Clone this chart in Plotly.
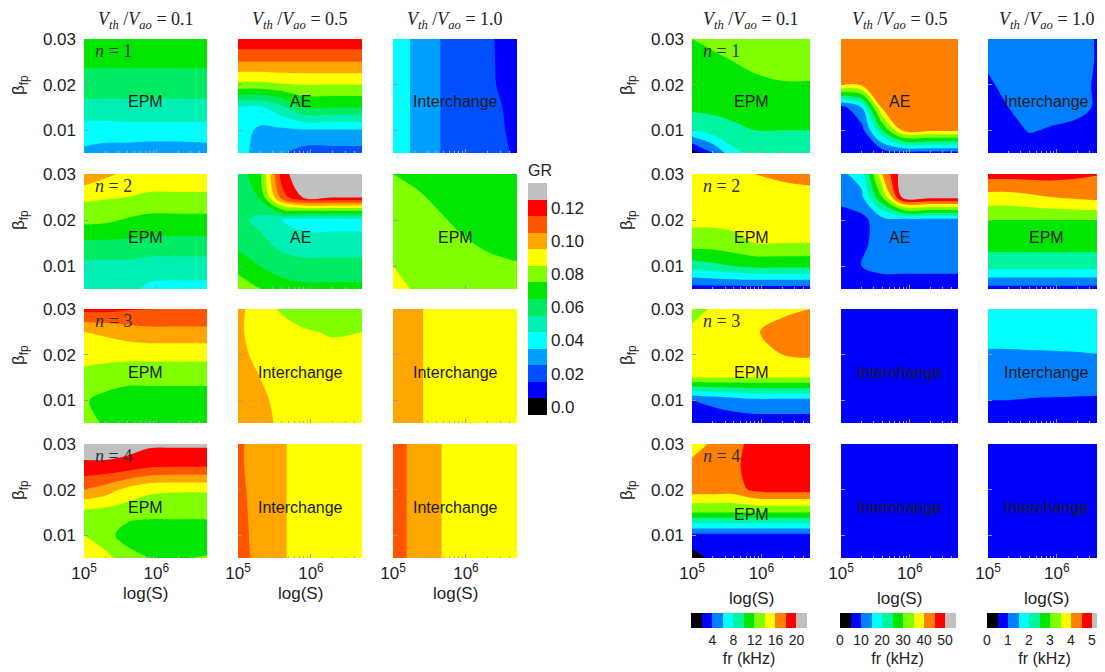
import math
import plotly.graph_objects as go

# page body has an 8 px margin: the figure is drawn 8 px in from the window corner
OFF = 8
W, H = 1105 - OFF, 672 - OFF

# ---------------- data ----------------
S_LOG = [5.0, 5.3, 5.6, 5.9, 6.3, 6.7]          # log10(S)
BETA = [0.005, 0.01, 0.015, 0.02, 0.025, 0.03]   # beta_fp (rows bottom -> top)
VTH = ["0.1", "0.5", "1.0"]
N_MODES = ["1", "2", "3", "4"]

MODES_GR = [["EPM", "AE", "Interchange"],
            ["EPM", "AE", "EPM"],
            ["EPM", "Interchange", "Interchange"],
            ["EPM", "Interchange", "Interchange"]]
MODES_FR = [["EPM", "AE", "Interchange"],
            ["EPM", "AE", "EPM"],
            ["EPM", "Interchange", "Interchange"],
            ["EPM", "Interchange", "Interchange"]]

# growth rate GR, rows = BETA (bottom->top), cols = S_LOG
gr_n1_v01 = [[0.033, 0.031, 0.030, 0.029, 0.029, 0.030],
             [0.040, 0.040, 0.041, 0.041, 0.041, 0.041],
             [0.052, 0.052, 0.052, 0.052, 0.052, 0.052],
             [0.060, 0.060, 0.060, 0.060, 0.060, 0.060],
             [0.067, 0.067, 0.067, 0.067, 0.067, 0.067],
             [0.072, 0.072, 0.072, 0.072, 0.072, 0.072]]
gr_n1_v05 = [[0.040, 0.030, 0.026, 0.021, 0.021, 0.021],
             [0.040, 0.033, 0.033, 0.034, 0.034, 0.034],
             [0.044, 0.043, 0.052, 0.065, 0.065, 0.065],
             [0.082, 0.082, 0.084, 0.085, 0.085, 0.085],
             [0.105, 0.105, 0.105, 0.105, 0.105, 0.105],
             [0.123, 0.123, 0.123, 0.123, 0.123, 0.123]]
gr_n1_v10 = [[0.042, 0.033, 0.026, 0.020, 0.018, 0.014],
             [0.042, 0.033, 0.026, 0.020, 0.018, 0.013],
             [0.042, 0.033, 0.026, 0.020, 0.018, 0.012],
             [0.042, 0.033, 0.026, 0.020, 0.017, 0.010],
             [0.042, 0.033, 0.026, 0.020, 0.017, 0.009],
             [0.042, 0.033, 0.026, 0.020, 0.017, 0.008]]
gr_n2_v01 = [[0.050, 0.050, 0.048, 0.043, 0.042, 0.042],
             [0.052, 0.052, 0.052, 0.050, 0.050, 0.050],
             [0.063, 0.063, 0.063, 0.062, 0.062, 0.062],
             [0.078, 0.077, 0.074, 0.072, 0.072, 0.072],
             [0.087, 0.086, 0.085, 0.083, 0.083, 0.083],
             [0.103, 0.097, 0.093, 0.092, 0.092, 0.092]]
gr_n2_v05 = [[0.080, 0.075, 0.070, 0.068, 0.068, 0.068],
             [0.072, 0.065, 0.060, 0.058, 0.058, 0.058],
             [0.062, 0.058, 0.052, 0.050, 0.050, 0.050],
             [0.058, 0.052, 0.045, 0.040, 0.040, 0.040],
             [0.058, 0.066, 0.110, 0.127, 0.127, 0.127],
             [0.060, 0.072, 0.120, 0.135, 0.135, 0.135]]
gr_n2_v10 = [[0.092, 0.083, 0.081, 0.080, 0.079, 0.078],
             [0.085, 0.082, 0.080, 0.079, 0.078, 0.076],
             [0.082, 0.080, 0.079, 0.077, 0.073, 0.071],
             [0.081, 0.079, 0.077, 0.073, 0.070, 0.069],
             [0.079, 0.077, 0.073, 0.071, 0.069, 0.068],
             [0.075, 0.072, 0.070, 0.069, 0.068, 0.068]]
gr_n3_v01 = [[0.078, 0.074, 0.072, 0.072, 0.072, 0.072],
             [0.076, 0.072, 0.070, 0.070, 0.070, 0.070],
             [0.082, 0.080, 0.078, 0.078, 0.078, 0.078],
             [0.088, 0.088, 0.088, 0.088, 0.088, 0.088],
             [0.095, 0.097, 0.100, 0.102, 0.102, 0.102],
             [0.118, 0.118, 0.116, 0.115, 0.115, 0.115]]
gr_n3_v05 = [[0.103, 0.100, 0.092, 0.088, 0.088, 0.088],
             [0.102, 0.098, 0.091, 0.088, 0.088, 0.088],
             [0.100, 0.095, 0.090, 0.088, 0.088, 0.088],
             [0.098, 0.092, 0.089, 0.088, 0.088, 0.088],
             [0.097, 0.090, 0.088, 0.086, 0.084, 0.085],
             [0.098, 0.089, 0.084, 0.080, 0.075, 0.078]]
gr_n3_v10 = [[0.100, 0.098, 0.090, 0.088, 0.088, 0.088],
             [0.100, 0.098, 0.090, 0.088, 0.088, 0.088],
             [0.100, 0.098, 0.090, 0.088, 0.088, 0.088],
             [0.100, 0.098, 0.090, 0.088, 0.088, 0.088],
             [0.100, 0.098, 0.090, 0.088, 0.088, 0.088],
             [0.101, 0.098, 0.090, 0.088, 0.088, 0.088]]
gr_n4_v01 = [[0.090, 0.088, 0.080, 0.075, 0.074, 0.076],
             [0.085, 0.079, 0.070, 0.068, 0.068, 0.068],
             [0.082, 0.081, 0.079, 0.078, 0.078, 0.078],
             [0.105, 0.100, 0.092, 0.087, 0.086, 0.086],
             [0.122, 0.122, 0.120, 0.116, 0.115, 0.115],
             [0.132, 0.132, 0.130, 0.127, 0.127, 0.127]]
gr_n4_v05 = [[0.110, 0.101, 0.097, 0.088, 0.088, 0.088],
             [0.109, 0.101, 0.097, 0.088, 0.088, 0.088],
             [0.109, 0.100, 0.097, 0.088, 0.088, 0.088],
             [0.108, 0.100, 0.097, 0.088, 0.088, 0.088],
             [0.107, 0.100, 0.097, 0.088, 0.088, 0.088],
             [0.107, 0.100, 0.097, 0.088, 0.088, 0.088]]
gr_n4_v10 = [[0.110, 0.102, 0.097, 0.088, 0.088, 0.088],
             [0.110, 0.102, 0.097, 0.088, 0.088, 0.088],
             [0.110, 0.102, 0.097, 0.088, 0.088, 0.088],
             [0.110, 0.102, 0.097, 0.088, 0.088, 0.088],
             [0.110, 0.102, 0.097, 0.088, 0.088, 0.088],
             [0.110, 0.102, 0.097, 0.088, 0.088, 0.088]]

# real frequency fr (kHz), rows = BETA (bottom->top), cols = S_LOG
fr_n1_v01 = [[1.0, 4.0, 7.5, 8.5, 9.0, 9.0],
             [8.0, 9.0, 9.5, 10.0, 10.0, 10.0],
             [10.5, 10.5, 10.8, 11.0, 11.0, 11.0],
             [10.5, 11.0, 11.3, 11.5, 11.8, 11.8],
             [11.0, 11.5, 12.0, 12.5, 13.0, 13.0],
             [12.0, 12.5, 13.0, 13.0, 13.0, 13.0]]
fr_n1_v05 = [[7.0, 7.0, 7.0, 8.0, 8.0, 8.0],
             [7.0, 8.0, 25.0, 41.0, 41.0, 41.0],
             [8.0, 15.0, 41.0, 42.5, 42.5, 42.5],
             [40.5, 41.0, 42.5, 42.5, 42.5, 42.5],
             [42.0, 42.5, 42.5, 42.5, 42.5, 42.5],
             [42.5, 42.5, 42.5, 42.5, 42.5, 42.5]]
fr_n1_v10 = [[0.75, 0.80, 0.85, 0.85, 0.85, 0.85],
             [0.80, 0.90, 1.02, 0.98, 0.95, 0.90],
             [0.85, 1.00, 1.10, 1.10, 1.05, 0.95],
             [0.95, 1.10, 1.15, 1.15, 1.10, 0.90],
             [1.05, 1.15, 1.20, 1.20, 1.15, 0.90],
             [1.15, 1.20, 1.20, 1.20, 1.15, 0.90]]
fr_n2_v01 = [[3.0, 3.0, 3.0, 3.0, 3.0, 3.0],
             [9.0, 9.5, 10.0, 10.5, 10.5, 10.5],
             [13.0, 13.0, 13.5, 14.0, 14.0, 14.0],
             [14.5, 14.5, 14.5, 14.5, 14.5, 14.5],
             [14.8, 14.8, 15.0, 15.0, 15.0, 15.0],
             [15.0, 15.0, 15.5, 16.0, 16.5, 17.0]]
fr_n2_v05 = [[8.0, 8.0, 8.0, 8.0, 8.0, 8.0],
             [8.0, 10.0, 11.0, 11.0, 11.0, 11.0],
             [7.0, 9.0, 12.0, 12.5, 12.5, 12.5],
             [7.0, 8.5, 13.0, 13.0, 13.0, 13.0],
             [12.0, 14.0, 30.0, 52.0, 52.0, 52.0],
             [14.0, 17.0, 40.0, 53.0, 53.0, 53.0]]
fr_n2_v10 = [[0.8, 0.8, 0.8, 0.8, 0.8, 0.8],
             [2.2, 2.2, 2.2, 2.2, 2.2, 2.2],
             [2.7, 2.7, 2.7, 2.7, 2.7, 2.7],
             [3.0, 3.0, 3.0, 3.0, 3.0, 3.0],
             [3.8, 3.8, 3.9, 4.0, 4.1, 4.2],
             [4.7, 4.7, 4.7, 4.7, 4.6, 4.5]]
fr_n3_v01 = [[2.5, 2.8, 3.0, 3.0, 3.0, 3.0],
             [3.9, 4.5, 5.0, 5.5, 5.5, 5.5],
             [14.0, 14.0, 14.0, 14.0, 14.0, 14.0],
             [15.0, 15.0, 15.0, 15.3, 16.0, 16.3],
             [14.8, 15.0, 15.0, 15.8, 16.8, 17.0],
             [12.5, 14.5, 15.0, 15.0, 15.5, 16.0]]
fr_n3_v05 = [[7.5] * 6 for _ in range(6)]
fr_n3_v10 = [[0.80, 0.80, 0.80, 0.80, 0.80, 0.80],
             [1.00, 1.00, 0.98, 0.97, 0.96, 0.95],
             [1.20, 1.20, 1.20, 1.20, 1.20, 1.20],
             [1.45, 1.45, 1.47, 1.48, 1.49, 1.50],
             [1.65, 1.65, 1.62, 1.60, 1.58, 1.57],
             [1.90, 1.90, 1.90, 1.90, 1.90, 1.90]]
fr_n4_v01 = [[1.0, 2.5, 3.0, 3.0, 3.0, 3.0],
             [3.5, 3.5, 3.5, 3.5, 3.5, 3.5],
             [12.0, 12.0, 12.0, 12.0, 12.0, 12.0],
             [17.0, 17.0, 17.0, 18.5, 18.8, 18.8],
             [17.0, 17.0, 17.5, 19.0, 19.0, 19.0],
             [14.5, 16.5, 17.5, 18.5, 19.0, 19.0]]
fr_n4_v05 = [[7.5] * 6 for _ in range(6)]
fr_n4_v10 = [[0.75] * 6 for _ in range(6)]

GR_GRID = [[gr_n1_v01, gr_n1_v05, gr_n1_v10],
           [gr_n2_v01, gr_n2_v05, gr_n2_v10],
           [gr_n3_v01, gr_n3_v05, gr_n3_v10],
           [gr_n4_v01, gr_n4_v05, gr_n4_v10]]
FR_GRID = [[fr_n1_v01, fr_n1_v05, fr_n1_v10],
           [fr_n2_v01, fr_n2_v05, fr_n2_v10],
           [fr_n3_v01, fr_n3_v05, fr_n3_v10],
           [fr_n4_v01, fr_n4_v05, fr_n4_v10]]

GR_TICKS = [0.0, 0.02, 0.04, 0.06, 0.08, 0.10, 0.12]
GR_TICKTEXT = ["0.0", "0.02", "0.04", "0.06", "0.08", "0.10", "0.12"]
GR_RANGE = (-0.005, 0.135, 0.01)          # (cmin, cmax, level step)
FR_TICKS = [[4, 8, 12, 16, 20], [0, 10, 20, 30, 40, 50], [0, 1, 2, 3, 4, 5]]
FR_RANGES = [(0, 22, 2), (0, 55, 5), (0, 5.5, 0.5)]
S_MINOR = [2e5, 3e5, 4e5, 5e5, 6e5, 7e5, 8e5, 9e5, 2e6, 3e6, 4e6, 5e6]

# ---------------- style ----------------
GR_COLORS = ["#000000", "#0000ff", "#0050ff", "#00a0ff", "#00ffff", "#00f0b4",
             "#00eb64", "#00e600", "#80ff00", "#ffff00", "#ffa500", "#ff5500",
             "#ff0000", "#c0c0c0"]
FR_COLORS = ["#000000", "#0000ff", "#0080ff", "#00ffff", "#00f5a0", "#00e600",
             "#80ff00", "#ffff00", "#ff8000", "#ff0000", "#c0c0c0"]


def stepped(colors):
    n = len(colors)
    scale = []
    for i, c in enumerate(colors):
        scale.append([i / n, c])
        scale.append([(i + 1) / n, c])
    return scale


# panel edges in window pixels
LEFT_COLS = [(84, 207), (238, 362), (393, 517)]
RIGHT_COLS = [(692, 810), (841, 958), (988, 1105)]
ROWS = [(39, 153), (174, 289), (309, 423), (444, 558)]
SANS = "Liberation Sans, Arial, sans-serif"
SERIF = "Liberation Serif, Times New Roman, serif"
TXT = "#222222"


def px(x):
    return (x - OFF) / W


def py(y):
    return 1 - (y - OFF) / H


def ann(x, y, text, font, **kw):
    d = dict(x=px(x), y=py(y), xref="paper", yref="paper", text=text,
             showarrow=False, xanchor="center", yanchor="middle", font=font)
    d.update(kw)
    return d


fig = go.Figure()
layout = {}
annotations = []

idx = 0
for block, (cols, grid, modes) in enumerate([(LEFT_COLS, GR_GRID, MODES_GR),
                                               (RIGHT_COLS, FR_GRID, MODES_FR)]):
    for r, (y0, y1) in enumerate(ROWS):
        for c, (x0, x1) in enumerate(cols):
            idx += 1
            sfx = "" if idx == 1 else str(idx)
            if block == 0:
                lo, hi, st = GR_RANGE
                colors = GR_COLORS
            else:
                lo, hi, st = FR_RANGES[c]
                colors = FR_COLORS
            fig.add_trace(go.Contour(
                x=S_LOG, y=BETA, z=grid[r][c],
                colorscale=stepped(colors), zmin=lo, zmax=hi, showscale=False,
                autocontour=False,
                contours=dict(start=lo + st, end=hi - st, size=st,
                              coloring="fill", showlines=False),
                line=dict(width=0), hoverinfo="skip",
                xaxis="x" + sfx, yaxis="y" + sfx))
            bottom = r == 3
            left = c == 0
            layout["xaxis" + sfx] = dict(
                domain=[px(x0), min(px(x1), 1.0)], anchor="y" + sfx, range=[5.0, 6.7],
                showgrid=False, zeroline=False, showline=False,
                ticks="inside", ticklen=4, tickcolor="#9a9a9a",
                tickvals=[5, 6], ticktext=["10<sup>5</sup>", "10<sup>6</sup>"],
                minor=dict(tickvals=[math.log10(s) for s in S_MINOR], ticks="inside",
                           ticklen=2, tickcolor="#b0b0b0"),
                showticklabels=bottom, ticklabelstandoff=3,
                tickfont=dict(family=SANS, size=17, color=TXT))
            layout["yaxis" + sfx] = dict(
                domain=[py(y1), py(y0)], anchor="x" + sfx, range=[0.005, 0.03],
                showgrid=False, zeroline=False, showline=False,
                ticks="inside", ticklen=4, tickcolor="#9a9a9a",
                tickvals=[0.01, 0.02, 0.03], ticktext=["0.01", "0.02", "0.03"],
                showticklabels=left, ticklabelstandoff=7,
                tickfont=dict(family=SANS, size=17, color=TXT))
            ly = y0 + (71 if (block == 1 and r == 3 and c == 0) else 63)
            annotations.append(ann((x0 + x1) / 2, ly, modes[r][c],
                                   dict(family=SANS, size=16, color="#1a1a1a")))
            if c == 0:
                annotations.append(ann(x0 + 9, y0 + 12, "<i>n</i> = " + N_MODES[r],
                                       dict(family=SERIF, size=18, color="#333333"),
                                       xanchor="left"))
                annotations.append(ann(x0 - 64, y0 + 46, "β<sub>fp</sub>",
                                       dict(family=SANS, size=17, color=TXT),
                                       textangle=-90))
            if r == 0:
                annotations.append(ann(
                    (x0 + x1) / 2, 20,
                    "<i>V</i><sub><i>th</i></sub> /<i>V</i><sub><i>ao</i></sub> = " + VTH[c],
                    dict(family=SERIF, size=18, color=TXT)))
            if bottom:
                annotations.append(ann((x0 + x1) / 2, 593 if block == 0 else 598,
                                       "log(S)", dict(family=SANS, size=17, color=TXT)))

# colour bars: hidden marker traces carrying each colour scale
hidden = dict(x=[4.0, 4.0], y=[0.0, 0.0], mode="markers", hoverinfo="skip",
              xaxis="x", yaxis="y", showlegend=False)
lo, hi, st = GR_RANGE
fig.add_trace(go.Scatter(**hidden, marker=dict(
    color=[lo, hi], colorscale=stepped(GR_COLORS), cmin=lo, cmax=hi, showscale=True,
    colorbar=dict(x=px(528), xanchor="left", y=py(161), yanchor="top",
                  lenmode="pixels", len=254, thicknessmode="pixels", thickness=19,
                  xpad=0, ypad=0, outlinewidth=0, ticks="",
                  tickvals=GR_TICKS, ticktext=GR_TICKTEXT,
                  tickfont=dict(family=SANS, size=17, color=TXT),
                  title=dict(text="GR", side="top",
                             font=dict(family=SANS, size=16, color=TXT))))))
for c in range(3):
    lo, hi, st = FR_RANGES[c]
    x0, x1 = RIGHT_COLS[c]
    pad = 0.004 * (hi - lo)
    fig.add_trace(go.Scatter(**hidden, marker=dict(
        color=[lo, hi], colorscale=stepped(FR_COLORS), cmin=lo - pad, cmax=hi,
        showscale=True,
        colorbar=dict(orientation="h", x=px((x0 + x1) / 2 - 2), xanchor="center",
                      y=py(613), yanchor="top",
                      lenmode="pixels", len=116, thicknessmode="pixels", thickness=15,
                      xpad=0, ypad=0, outlinewidth=0, ticks="",
                      tickvals=FR_TICKS[c],
                      tickfont=dict(family=SANS, size=14, color=TXT),
                      title=dict(text="fr (kHz)", side="bottom",
                                 font=dict(family=SANS, size=16, color=TXT))))))

fig.update_layout(
    width=W, height=H, margin=dict(l=0, r=0, t=0, b=0, autoexpand=False),
    paper_bgcolor="white", plot_bgcolor="white",
    showlegend=False, annotations=annotations, **layout)

fig.write_html("out.html")
